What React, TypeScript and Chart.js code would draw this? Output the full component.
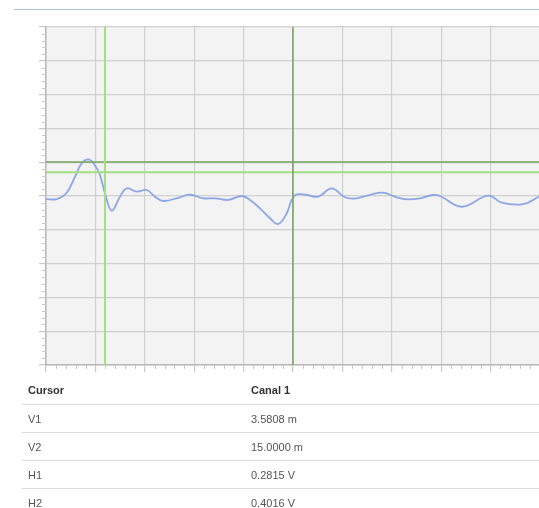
import React, { useEffect, useRef } from "react";
import { Chart, registerables } from "chart.js";

Chart.register(...registerables);

// Signal (Canal 1): distance in metres, voltage in volts
const distances = [
  0, 0.65, 1.257, 1.761, 2.168, 2.569, 2.872, 3.237, 3.583, 3.99, 4.494, 4.901,
  5.508, 6.115, 6.619, 7.123, 8.138, 8.745, 9.553, 10.263, 11.071, 11.884,
  12.388, 12.996, 13.603, 14.107, 14.617, 14.921, 15.224, 15.832, 16.536,
  17.35, 18.157, 18.868, 20.386, 21.297, 21.904, 22.712, 23.52, 23.927,
  25.245, 26.86, 27.674, 28.985, 30,
];
const voltages = [
  -0.036, -0.036, 0.039, 0.228, 0.387, 0.434, 0.387, 0.269, 0.032, -0.174,
  -0.008, 0.091, 0.051, 0.071, -0.008, -0.059, -0.015, 0.015, -0.027, -0.027,
  -0.047, 0.0, -0.047, -0.146, -0.264, -0.331, -0.205, -0.047, 0.018, 0.012,
  -0.008, 0.091, -0.015, -0.027, 0.039, -0.015, -0.039, -0.027, 0.012, 0.0,
  -0.127, 0.004, -0.079, -0.095, 0.0,
];

// Axis ranges
const xMin = 0;
const xMax = 30;
const xStep = 3;
const yMin = -2;
const yMax = 2;
const yStep = 0.4;

// Cursors
const cursorV1 = 3.5808;
const cursorV2 = 15.0;
const cursorH1 = 0.2815;
const cursorH2 = 0.4016;

// Table
const tableHeaders = ["Cursor", "Canal 1"];
const cursorNames = ["V1", "V2", "H1", "H2"];
const cursorReadings = ["3.5808 m", "15.0000 m", "0.2815 V", "0.4016 V"];

const LIGHT_GREEN = "#a2de84";
const DARK_GREEN = "#74a45e";

const bgPlugin = {
  id: "areaBg",
  beforeDraw(chart: any) {
    const { ctx, chartArea } = chart;
    ctx.save();
    ctx.fillStyle = "#f3f3f3";
    ctx.fillRect(chartArea.left, chartArea.top, chartArea.right - chartArea.left, chartArea.bottom - chartArea.top);
    ctx.restore();
  },
};

const minorTickPlugin = {
  id: "minorTicks",
  afterDraw(chart: any) {
    const { ctx, chartArea } = chart;
    const x = chart.scales.x;
    const y = chart.scales.y;
    ctx.save();
    ctx.strokeStyle = "#c8c8c8";
    ctx.lineWidth = 1;
    ctx.beginPath();
    const nx = Math.round((xMax - xMin) / (xStep / 5));
    for (let i = 0; i <= nx; i++) {
      if (i % 5 === 0) continue;
      const v = xMin + (i * xStep) / 5;
      const px = Math.round(x.getPixelForValue(v)) + 0.5;
      ctx.moveTo(px, chartArea.bottom);
      ctx.lineTo(px, chartArea.bottom + 4);
    }
    const ny = Math.round((yMax - yMin) / (yStep / 5));
    for (let i = 0; i <= ny; i++) {
      if (i % 5 === 0) continue;
      const v = yMin + (i * yStep) / 5;
      const py = Math.round(y.getPixelForValue(v)) + 0.5;
      ctx.moveTo(chartArea.left - 4, py);
      ctx.lineTo(chartArea.left, py);
    }
    ctx.stroke();
    ctx.restore();
  },
};

function CursorChart() {
  const ref = useRef<HTMLCanvasElement | null>(null);
  useEffect(() => {
    if (!ref.current) return;
    const signal = distances.map((d, i) => ({ x: d, y: voltages[i] }));
    const chart = new Chart(ref.current, {
      type: "scatter",
      data: {
        datasets: [
          {
            label: "V1",
            data: [{ x: cursorV1, y: yMin }, { x: cursorV1, y: yMax }],
            showLine: true,
            borderColor: LIGHT_GREEN,
            borderWidth: 2,
            pointRadius: 0,
          },
          {
            label: "V2",
            data: [{ x: cursorV2, y: yMin }, { x: cursorV2, y: yMax }],
            showLine: true,
            borderColor: DARK_GREEN,
            borderWidth: 1.5,
            pointRadius: 0,
          },
          {
            label: "H1",
            data: [{ x: xMin, y: cursorH1 }, { x: xMax, y: cursorH1 }],
            showLine: true,
            borderColor: LIGHT_GREEN,
            borderWidth: 2,
            pointRadius: 0,
          },
          {
            label: "H2",
            data: [{ x: xMin, y: cursorH2 }, { x: xMax, y: cursorH2 }],
            showLine: true,
            borderColor: DARK_GREEN,
            borderWidth: 1.5,
            pointRadius: 0,
          },
          {
            label: "Canal 1",
            data: signal,
            showLine: true,
            borderColor: "#8ca6e6",
            borderWidth: 1.8,
            pointRadius: 0,
            tension: 0.4,
            cubicInterpolationMode: "default",
          },
        ],
      },
      options: {
        responsive: false,
        animation: false,
        events: [],
        layout: { padding: { left: 31, right: 28, top: 19, bottom: 6 } },
        plugins: { legend: { display: false }, tooltip: { enabled: false } },
        scales: {
          x: {
            type: "linear",
            min: xMin,
            max: xMax,
            ticks: { stepSize: xStep, display: false },
            grid: { color: "#d0d0d0", lineWidth: 1.2, tickLength: 7, tickColor: "#c8c8c8" },
            border: { color: "#b8b8b8", width: 1.5 },
          },
          y: {
            type: "linear",
            min: yMin,
            max: yMax,
            ticks: { stepSize: yStep, display: false },
            grid: { color: "#d0d0d0", lineWidth: 1.2, tickLength: 7, tickColor: "#c8c8c8" },
            border: { color: "#b8b8b8", width: 1.5 },
          },
        },
      },
      plugins: [bgPlugin, minorTickPlugin],
    } as any);
    return () => chart.destroy();
  }, []);
  return <canvas ref={ref} width={560} height={370} style={{ display: "block" }} />;
}

export default function App() {
  const font = "'Liberation Sans', Arial, sans-serif";
  useEffect(() => {
    document.documentElement.style.overflow = "hidden";
    document.body.style.overflow = "hidden";
    document.body.style.margin = "0";
  }, []);
  return (
    <div style={{ width: 539, height: 508, overflow: "hidden", position: "relative" }}>
      <div style={{ position: "absolute", left: 8, top: 8, width: 560, height: 500, fontFamily: font }}>
        <div style={{ position: "absolute", left: 6, top: 1, width: 560, height: 0, borderTop: "1px solid #a9bedb" }} />
        <div style={{ position: "absolute", left: 0, top: 0 }}>
          <CursorChart />
        </div>
        <div
          style={{
            position: "absolute",
            left: 14,
            top: 368,
            width: 560,
            height: 28,
            display: "flex",
            alignItems: "center",
            fontSize: 11,
            fontWeight: "bold",
            color: "#333",
          }}
        >
          <span style={{ position: "absolute", left: 6 }}>{tableHeaders[0]}</span>
          <span style={{ position: "absolute", left: 229 }}>{tableHeaders[1]}</span>
        </div>
        {cursorNames.map((name, i) => (
          <div
            key={name}
            style={{
              position: "absolute",
              left: 14,
              top: 396 + i * 28,
              width: 560,
              height: 28,
              boxSizing: "border-box",
              borderTop: "1px solid #dddddd",
              display: "flex",
              alignItems: "center",
              fontSize: 11,
              color: "#555",
            }}
          >
            <span style={{ position: "absolute", left: 6 }}>{name}</span>
            <span style={{ position: "absolute", left: 229 }}>{cursorReadings[i]}</span>
          </div>
        ))}
      </div>
    </div>
  );
}
